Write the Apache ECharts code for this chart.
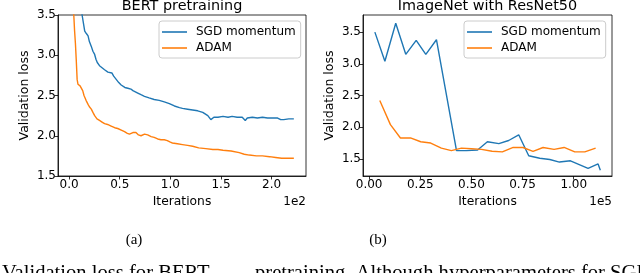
<!DOCTYPE html>
<html><head><meta charset="utf-8">
<script src="https://cdn.jsdelivr.net/npm/echarts@6/dist/echarts.min.js"></script>
<style>html,body{margin:0;padding:0;background:#fff}#c{width:640px;height:273px}</style>
</head><body><div id="c"></div>
<script>
// ---- Data: BERT pretraining (x in units of 1e2) ----
const bertSgd = [[0.12,3.6],[0.128,3.5],[0.154,3.30],[0.17,3.27],[0.187,3.24],[0.20,3.17],[0.219,3.11],[0.235,3.05],[0.252,3.01],[0.265,2.95],[0.278,2.91],[0.30,2.87],[0.317,2.85],[0.35,2.82],[0.383,2.79],[0.40,2.79],[0.422,2.78],[0.44,2.74],[0.465,2.70],[0.49,2.66],[0.514,2.63],[0.55,2.60],[0.58,2.59],[0.61,2.58],[0.63,2.56],[0.645,2.57],[0.678,2.53],[0.71,2.51],[0.744,2.49],[0.79,2.47],[0.84,2.45],[0.89,2.44],[0.94,2.42],[0.99,2.40],[1.04,2.37],[1.09,2.35],[1.12,2.34],[1.17,2.33],[1.22,2.32],[1.27,2.31],[1.32,2.29],[1.37,2.25],[1.40,2.20],[1.41,2.19],[1.43,2.23],[1.47,2.23],[1.52,2.24],[1.57,2.23],[1.61,2.24],[1.66,2.23],[1.71,2.23],[1.74,2.19],[1.76,2.22],[1.81,2.23],[1.86,2.22],[1.91,2.23],[1.96,2.22],[2.01,2.22],[2.06,2.22],[2.09,2.20],[2.12,2.20],[2.17,2.21],[2.22,2.21]];
const bertAdam = [[0.04,3.6],[0.046,3.5],[0.054,3.3],[0.062,3.15],[0.07,2.95],[0.079,2.70],[0.087,2.64],[0.095,2.63],[0.108,2.62],[0.121,2.62],[0.134,2.56],[0.147,2.50],[0.167,2.44],[0.187,2.39],[0.20,2.36],[0.219,2.33],[0.235,2.29],[0.252,2.25],[0.275,2.21],[0.30,2.19],[0.325,2.17],[0.35,2.15],[0.38,2.14],[0.415,2.12],[0.45,2.10],[0.48,2.09],[0.515,2.07],[0.547,2.05],[0.575,2.03],[0.596,2.02],[0.63,2.04],[0.66,2.04],[0.685,2.01],[0.71,2.00],[0.745,2.02],[0.776,2.01],[0.81,1.99],[0.84,1.98],[0.875,1.96],[0.907,1.95],[0.94,1.95],[0.97,1.94],[1.0,1.92],[1.02,1.91],[1.07,1.90],[1.12,1.89],[1.17,1.88],[1.22,1.87],[1.28,1.85],[1.35,1.84],[1.42,1.83],[1.47,1.83],[1.52,1.82],[1.6,1.81],[1.68,1.79],[1.73,1.77],[1.78,1.76],[1.85,1.75],[1.91,1.75],[1.98,1.74],[2.04,1.73],[2.1,1.72],[2.14,1.72],[2.22,1.72]];
// ---- Data: ImageNet with ResNet50 (x in units of 1e5) ----
const imnSgd = [[0.028,3.50],[0.077,3.04],[0.13,3.64],[0.179,3.15],[0.23,3.37],[0.277,3.15],[0.329,3.38],[0.427,1.63],[0.476,1.63],[0.53,1.64],[0.578,1.77],[0.634,1.74],[0.682,1.79],[0.731,1.88],[0.78,1.55],[0.834,1.51],[0.883,1.49],[0.93,1.45],[0.984,1.47],[1.07,1.35],[1.119,1.42],[1.13,1.32]];
const imnAdam = [[0.052,2.42],[0.104,2.04],[0.153,1.83],[0.202,1.83],[0.252,1.77],[0.301,1.75],[0.353,1.67],[0.402,1.63],[0.451,1.67],[0.5,1.66],[0.549,1.65],[0.601,1.62],[0.651,1.61],[0.704,1.68],[0.752,1.68],[0.801,1.62],[0.85,1.68],[0.904,1.65],[0.953,1.68],[1.005,1.61],[1.054,1.61],[1.107,1.67]];
const bertXTicks = [0, 0.5, 1.0, 1.5, 2.0];
const bertYTicks = [1.5, 2.0, 2.5, 3.0, 3.5];
const imnXTicks = [0, 0.25, 0.5, 0.75, 1.0];
const imnYTicks = [1.5, 2.0, 2.5, 3.0, 3.5];
const seriesNames = ['SGD momentum', 'ADAM'];
const titles = ['BERT pretraining', 'ImageNet with ResNet50'];

const BLUE = '#1f77b4', ORANGE = '#ff7f0e';
const FONT = 'DejaVu Sans';
const chart = echarts.init(document.getElementById('c'), null, {renderer: 'canvas'});

function xAxis(idx, min, max, ticks, dec) {
  return {
    type: 'value', gridIndex: idx, min: min, max: max,
    name: 'Iterations', nameLocation: 'middle', nameGap: 20,
    nameTextStyle: {fontFamily: FONT, fontSize: 12.3, color: '#000'},
    splitLine: {show: false},
    axisLine: {show: true, onZero: false, lineStyle: {color: '#000', width: 0.8}},
    axisTick: {show: true, inside: false, length: 3.5, lineStyle: {color: '#000', width: 0.8}, customValues: ticks},
    axisLabel: {fontFamily: FONT, fontSize: 12, color: '#000', margin: 3, customValues: ticks,
      formatter: v => v.toFixed(dec)}
  };
}
function yAxis(idx, min, max, ticks) {
  return {
    type: 'value', gridIndex: idx, min: min, max: max,
    name: 'Validation loss', nameLocation: 'middle', nameGap: 27,
    nameTextStyle: {fontFamily: FONT, fontSize: 12.5, color: '#000'},
    splitLine: {show: false},
    axisLine: {show: true, onZero: false, lineStyle: {color: '#000', width: 0.8}},
    axisTick: {show: true, inside: false, length: 3.5, lineStyle: {color: '#000', width: 0.8}, customValues: ticks},
    axisLabel: {fontFamily: FONT, fontSize: 12, color: '#000', margin: 2, customValues: ticks,
      formatter: v => v.toFixed(1)}
  };
}
function legend(left, top) {
  return {
    left: left, top: top, orient: 'vertical', data: seriesNames,
    icon: 'rect', itemWidth: 25, itemHeight: 1.6, itemGap: 4,
    padding: [5, 5, 4, 3],
    backgroundColor: 'rgba(255,255,255,0.8)', borderColor: '#ccc', borderWidth: 1, borderRadius: 3,
    textStyle: {fontFamily: FONT, fontSize: 12, color: '#000', padding: [0, 0, 0, 4]},
    selectedMode: false
  };
}
function line(name, data, color, xi, yi) {
  return {name: name, type: 'line', data: data, xAxisIndex: xi, yAxisIndex: yi,
    showSymbol: false, symbol: 'none', clip: true, animation: false,
    lineStyle: {color: color, width: 1.4}, itemStyle: {color: color}};
}
const txt = (x, y, t, opt) => Object.assign({type: 'text', x: x, y: y, style: Object.assign({text: t, fill: '#000'}, opt)});

chart.setOption({
  animation: false,
  backgroundColor: '#fff',
  grid: [
    {left: 58, top: 15, width: 248, height: 161, show: true, borderColor: '#000', borderWidth: 0.8, backgroundColor: 'transparent'},
    {left: 363, top: 15, width: 249, height: 161, show: true, borderColor: '#000', borderWidth: 0.8, backgroundColor: 'transparent'}
  ],
  xAxis: [xAxis(0, -0.11, 2.34, bertXTicks, 1), xAxis(1, -0.03, 1.187, imnXTicks, 2)],
  yAxis: [yAxis(0, 1.5, 3.5, bertYTicks), yAxis(1, 1.23, 3.77, imnYTicks)],
  legend: [legend(159, 21), legend(464, 21)],
  series: [
    line(seriesNames[0], bertSgd, BLUE, 0, 0),
    line(seriesNames[1], bertAdam, ORANGE, 0, 0),
    line(seriesNames[0], imnSgd, BLUE, 1, 1),
    line(seriesNames[1], imnAdam, ORANGE, 1, 1)
  ],
  graphic: [
    txt(182, 6, titles[0], {font: '14.4px "DejaVu Sans"', textAlign: 'center', textVerticalAlign: 'middle'}),
    txt(487.5, 6, titles[1], {font: '14.4px "DejaVu Sans"', textAlign: 'center', textVerticalAlign: 'middle'}),
    txt(306, 202, '1e2', {font: '12px "DejaVu Sans"', textAlign: 'right', textVerticalAlign: 'middle'}),
    txt(612, 202, '1e5', {font: '12px "DejaVu Sans"', textAlign: 'right', textVerticalAlign: 'middle'}),
    txt(134, 240, '(a)', {font: '15px "Liberation Serif"', textAlign: 'center', textVerticalAlign: 'middle'}),
    txt(378, 240, '(b)', {font: '15px "Liberation Serif"', textAlign: 'center', textVerticalAlign: 'middle'}),
    txt(2, 263, 'Validation loss for BERT', {font: '20.6px "Liberation Serif"', textAlign: 'left', textVerticalAlign: 'top'}),
    txt(255, 263, 'pretraining. Although hyperparameters for SGD', {font: '20.6px "Liberation Serif"', textAlign: 'left', textVerticalAlign: 'top'})
  ]
});
</script></body></html>
